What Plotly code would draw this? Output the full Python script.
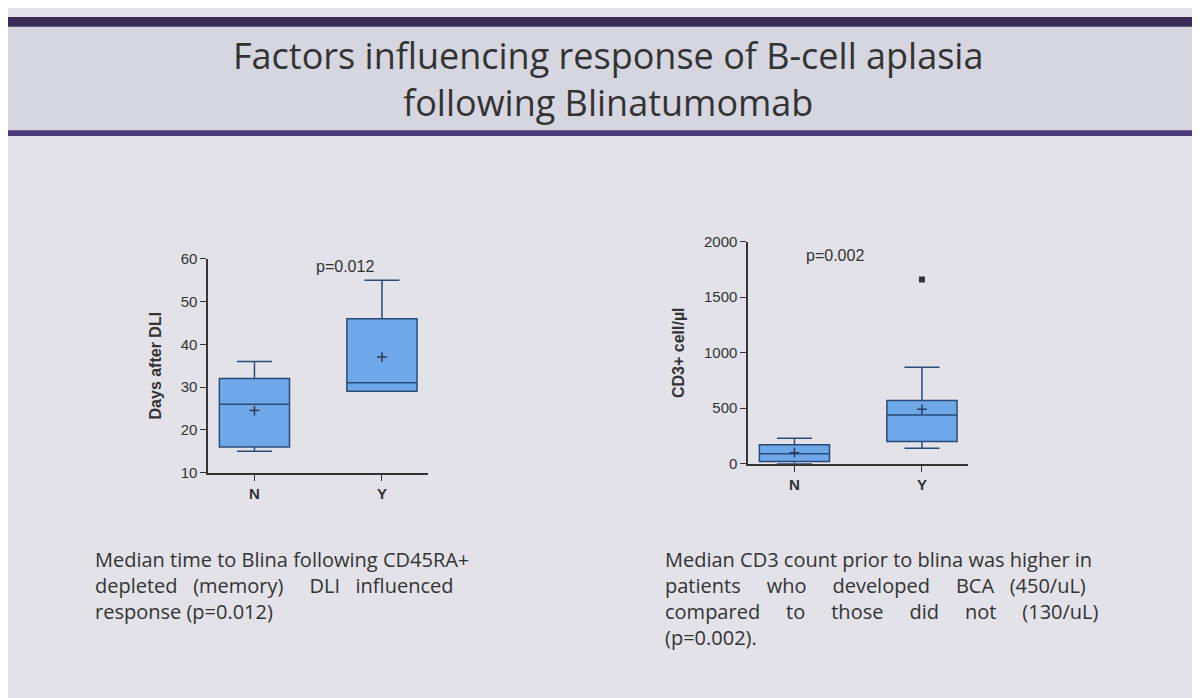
import plotly.graph_objects as go

cats = ["N", "Y"]
days_q1 = [16, 29]; days_med = [26, 31]; days_q3 = [32, 46]
days_lo = [15, 29]; days_hi = [36, 55]; days_mean = [24.5, 37]
cd3_q1 = [20, 200]; cd3_med = [90, 440]; cd3_q3 = [170, 570]
cd3_lo = [0, 140]; cd3_hi = [230, 870]; cd3_mean = [100, 490]
cd3_out_x = ["Y"]; cd3_out_y = [1660]

fig = go.Figure()
box_style = dict(fillcolor="#6fa8e8", line=dict(color="#2a4a78", width=1.5), showlegend=False, width=0.55)
mk = dict(symbol="cross-thin", size=7, line=dict(color="#2a3a5a", width=1.5))
fig.add_trace(go.Box(x=cats, q1=days_q1, median=days_med, q3=days_q3, lowerfence=days_lo,
                     upperfence=days_hi, xaxis="x", yaxis="y", **box_style))
fig.add_trace(go.Scatter(x=cats, y=days_mean, mode="markers", marker=mk, xaxis="x", yaxis="y", showlegend=False))
fig.add_trace(go.Box(x=cats, q1=cd3_q1, median=cd3_med, q3=cd3_q3, lowerfence=cd3_lo,
                     upperfence=cd3_hi, xaxis="x2", yaxis="y2", **box_style))
fig.add_trace(go.Scatter(x=cats, y=cd3_mean, mode="markers", marker=mk, xaxis="x2", yaxis="y2", showlegend=False))
fig.add_trace(go.Scatter(x=cd3_out_x, y=cd3_out_y, mode="markers", marker=dict(symbol="square", size=6, color="#333"),
                         xaxis="x2", yaxis="y2", showlegend=False))

ax = dict(showline=True, linecolor="#333", linewidth=2, ticks="outside", tickcolor="#333", ticklen=6,
          showgrid=False, zeroline=False, tickfont=dict(family="Liberation Sans", size=15, color="#333"))
xax = dict(ax, tickfont=dict(family="Liberation Sans", size=15, color="#333"), tickprefix="<b>", ticksuffix="</b>")
tf = dict(family="Liberation Sans", size=16, color="#333")
fig.update_layout(
    width=1200, height=698, margin=dict(l=0, r=0, t=0, b=0),
    paper_bgcolor="#e2e2e8", plot_bgcolor="rgba(0,0,0,0)",
    xaxis=dict(domain=[0.167, 0.35], anchor="y", **xax),
    yaxis=dict(domain=[0.331, 0.645], anchor="x", range=[10, 60], dtick=10, **ax,
               title=dict(text="<b>Days after DLI</b>", font=tf)),
    xaxis2=dict(domain=[0.617, 0.8], anchor="y2", **xax),
    yaxis2=dict(domain=[0.344, 0.67], anchor="x2", range=[0, 2000], dtick=500, **ax,
                title=dict(text="<b>CD3+ cell/µl</b>", font=tf)),
    shapes=[
        dict(type="rect", xref="paper", yref="paper", x0=0, x1=1, y0=1 - 118/698, y1=1, fillcolor="#d6d6e0", line_width=0, layer="below"),
        dict(type="rect", xref="paper", yref="paper", x0=0, x1=1, y0=1 - 10/698, y1=1, fillcolor="#3a2e58", line_width=0, layer="below"),
        dict(type="rect", xref="paper", yref="paper", x0=0, x1=1, y0=1 - 122/698, y1=1 - 116/698, fillcolor="#4a3a78", line_width=0, layer="below"),
    ],
    annotations=[
        dict(text="Factors influencing response of B-cell aplasia<br>following Blinatumomab", x=0.5, y=1 - 12/698, xref="paper", yref="paper",
             yanchor="top", showarrow=False, font=dict(family="Open Sans", size=36, color="#333")),
        dict(text="p=0.012", x=0.255, y=1 - 256/698, xref="paper", yref="paper", showarrow=False, font=tf),
        dict(text="p=0.002", x=0.715, y=1 - 244/698, xref="paper", yref="paper", showarrow=False, font=tf),
        dict(text="Median time to Blina following CD45RA+<br>depleted   (memory)     DLI   influenced<br>response (p=0.012)",
             x=85/1200, y=1 - 540/698, xref="paper", yref="paper", xanchor="left", yanchor="top", align="left", showarrow=False,
             font=dict(family="Open Sans", size=20, color="#333")),
        dict(text="Median CD3 count prior to blina was higher in<br>patients     who     developed     BCA   (450/uL)<br>compared     to     those     did     not     (130/uL)<br>(p=0.002).",
             x=655/1200, y=1 - 540/698, xref="paper", yref="paper", xanchor="left", yanchor="top", align="left", showarrow=False,
             font=dict(family="Open Sans", size=20, color="#333")),
    ],
)
fig.write_html("out.html")
